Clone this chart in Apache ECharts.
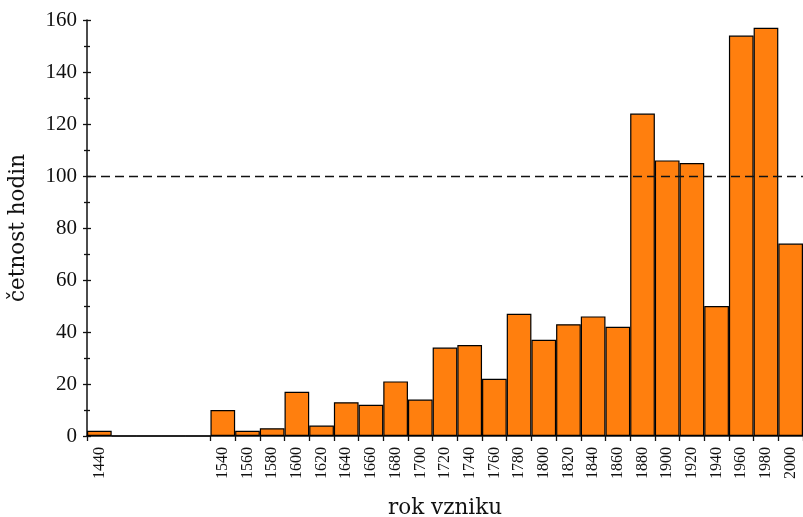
<!DOCTYPE html>
<html><head><meta charset="utf-8">
<script src="https://cdn.jsdelivr.net/npm/echarts@6/dist/echarts.min.js"></script>
<style>html,body{margin:0;padding:0;background:#fff}#c{width:803px;height:517px}</style>
</head><body><div id="c"></div>
<script>
const binStarts = ['1440','1460','1480','1500','1520','1540','1560','1580','1600','1620','1640','1660','1680','1700','1720','1740','1760','1780','1800','1820','1840','1860','1880','1900','1920','1940','1960','1980','2000'];
const counts = [2,0,0,0,0,10,2,3,17,4,13,12,21,14,34,35,22,47,37,43,46,42,124,106,105,50,154,157,74];
const hiddenLabels = ['1460','1480','1500','1520'];
const refValue = 100;
const yTicks = {min:0, max:160, interval:20};
const FONT = 'Liberation Serif';
const NAMEFONT = 'DejaVu Serif';

const chart = echarts.init(document.getElementById('c'), null, {renderer:'canvas'});
chart.setOption({
  animation:false,
  grid:{left:87, right:0, top:20, bottom:81, containLabel:false, outerBoundsMode:'none'},
  xAxis:{
    type:'category', data:binStarts, boundaryGap:true,
    name:'rok vzniku', nameLocation:'middle', nameGap:61,
    nameTextStyle:{fontFamily:NAMEFONT, fontSize:21.5, color:'#111'},
    axisLine:{lineStyle:{color:'#111', width:1.5}},
    axisTick:{show:true, length:5, lineStyle:{color:'#111', width:1.3},
      interval:(i, v)=> hiddenLabels.indexOf(v) < 0},
    axisLabel:{rotate:90, margin:11, fontFamily:FONT, fontSize:16, color:'#111',
      interval:0, formatter:v=> hiddenLabels.indexOf(v) < 0 ? v : ''}
  },
  yAxis:[{
    type:'value', min:yTicks.min, max:yTicks.max, interval:yTicks.interval,
    name:'četnost hodin', nameLocation:'middle', nameGap:58,
    nameTextStyle:{fontFamily:NAMEFONT, fontSize:21.5, color:'#111'},
    axisLine:{show:true, lineStyle:{color:'#111', width:1.5}},
    axisTick:{show:true, length:4, lineStyle:{color:'#111', width:1.3}},
    minorTick:{show:true, splitNumber:2, length:3, lineStyle:{color:'#111', width:1.3}},
    splitLine:{show:false},
    axisLabel:{margin:10, fontFamily:FONT, fontSize:21, color:'#111'}
  },{
    type:'value', min:yTicks.min, max:yTicks.max, interval:yTicks.interval, position:'left', offset:0,
    axisLine:{show:false},
    axisTick:{show:true, inside:true, length:4, lineStyle:{color:'#111', width:1.3}},
    minorTick:{show:true, splitNumber:2, length:3, lineStyle:{color:'#111', width:1.3}},
    splitLine:{show:false}, axisLabel:{show:false}
  }],
  series:[{
    type:'bar', data:counts, barCategoryGap:'0%', barGap:'0%',
    itemStyle:{color:'#ff7f0e', borderColor:'#000', borderWidth:1.2},
    markLine:{
      symbol:'none', silent:true, label:{show:false},
      lineStyle:{type:[9,5], color:'#111', width:1.3},
      data:[{yAxis:refValue}]
    }
  }]
});
</script></body></html>
